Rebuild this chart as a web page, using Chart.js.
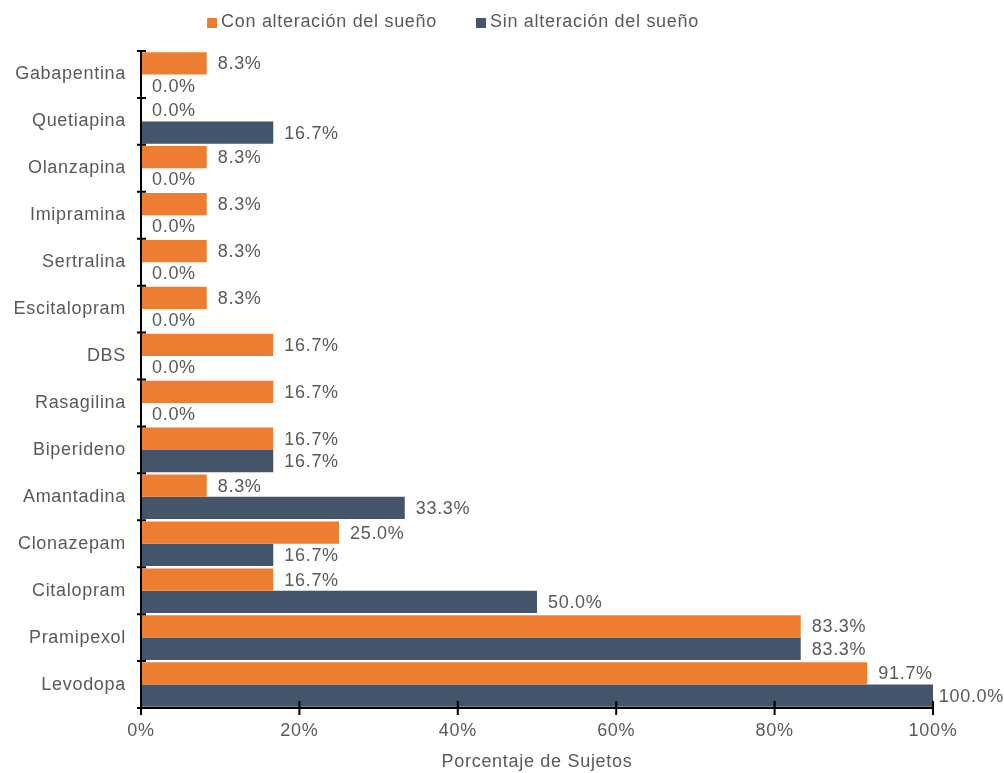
<!DOCTYPE html>
<html>
<head>
<meta charset="utf-8">
<script src="https://cdn.jsdelivr.net/npm/chart.js@4"></script>
<style>
  html, body { margin: 0; padding: 0; background: #fff; }
  #wrap { width: 1004px; height: 773px; }
</style>
</head>
<body>
<div id="wrap"><canvas id="sleepChart" width="1004" height="773"></canvas></div>
<script>
const farmacos = ['Gabapentina', 'Quetiapina', 'Olanzapina', 'Imipramina', 'Sertralina', 'Escitalopram',
    'DBS', 'Rasagilina', 'Biperideno', 'Amantadina', 'Clonazepam', 'Citalopram', 'Pramipexol', 'Levodopa'];
const conAlteracion = [8.3, 0.0, 8.3, 8.3, 8.3, 8.3, 16.7, 16.7, 16.7, 8.3, 25.0, 16.7, 83.3, 91.7];
const sinAlteracion = [0.0, 16.7, 0.0, 0.0, 0.0, 0.0, 0.0, 0.0, 16.7, 33.3, 16.7, 50.0, 83.3, 100.0];
const ticksX = [0, 20, 40, 60, 80, 100];

const textColor = '#595959';
const fontFamily = '"Liberation Sans", Arial, sans-serif';
const fontSize = 18;
const spacing = '0.7px';

// slightly wider letter spacing, set before layout and before drawing
const letterSpacing = {
    id: 'letterSpacing',
    beforeUpdate(chart) { chart.ctx.letterSpacing = spacing; },
    beforeDraw(chart) { chart.ctx.letterSpacing = spacing; }
};

// legend drawn by hand: small square, tight gap, then the label
const legendRow = {
    id: 'legendRow',
    afterDraw(chart) {
        const ctx = chart.ctx;
        ctx.save();
        ctx.letterSpacing = spacing;
        ctx.font = fontSize + 'px ' + fontFamily;
        ctx.textBaseline = 'middle';
        const items = chart.data.datasets.map(ds => ({
            text: ds.label, color: ds.backgroundColor, w: ctx.measureText(ds.label).width
        }));
        const box = 10, gap = 4, between = 39;
        const total = items.reduce((s, it) => s + box + gap + it.w, 0) + between * (items.length - 1);
        let x = 453 - total / 2;
        const y = 22;
        items.forEach(it => {
            ctx.fillStyle = it.color;
            ctx.fillRect(x, y - 4, box, box);
            x += box + gap;
            ctx.fillStyle = textColor;
            ctx.fillText(it.text, x, y);
            x += it.w + between;
        });
        ctx.restore();
    }
};

// value labels to the right of each bar end
const barLabels = {
    id: 'barLabels',
    afterDatasetsDraw(chart) {
        const ctx = chart.ctx;
        ctx.save();
        ctx.letterSpacing = spacing;
        ctx.font = fontSize + 'px ' + fontFamily;
        ctx.fillStyle = textColor;
        ctx.textBaseline = 'middle';
        chart.data.datasets.forEach((ds, i) => {
            chart.getDatasetMeta(i).data.forEach((bar, j) => {
                const txt = ds.data[j].toFixed(1) + '%';
                const w = ctx.measureText(txt).width;
                const x = Math.min(bar.x + 11, chart.width - w);
                ctx.fillText(txt, x, bar.y + 1);
            });
        });
        ctx.restore();
    }
};

// axis lines with tick marks crossing them
const axisTicks = {
    id: 'axisTicks',
    afterDraw(chart) {
        const ctx = chart.ctx;
        const xs = chart.scales.x;
        const area = chart.chartArea;
        ctx.save();
        ctx.strokeStyle = '#000';
        ctx.lineWidth = 2;
        ctx.beginPath();
        ctx.moveTo(area.left, area.top);
        ctx.lineTo(area.left, area.bottom);
        ctx.lineTo(area.right, area.bottom);
        ctx.stroke();
        ctx.beginPath();
        for (let k = 0; k <= farmacos.length; k++) {
            const y = area.top + (area.bottom - area.top) * k / farmacos.length;
            ctx.moveTo(area.left - 4, y);
            ctx.lineTo(area.left + 5, y);
        }
        ticksX.forEach(v => {
            const x = xs.getPixelForValue(v);
            ctx.moveTo(x, area.bottom - 7);
            ctx.lineTo(x, area.bottom + 7);
        });
        ctx.stroke();
        ctx.restore();
    }
};

new Chart(document.getElementById('sleepChart'), {
    type: 'bar',
    data: {
        labels: farmacos,
        datasets: [{
            label: 'Con alteración del sueño',
            data: conAlteracion,
            backgroundColor: '#ED7D31',
            barPercentage: 1.0,
            categoryPercentage: 0.95
        }, {
            label: 'Sin alteración del sueño',
            data: sinAlteracion,
            backgroundColor: '#44546A',
            barPercentage: 1.0,
            categoryPercentage: 0.95
        }]
    },
    options: {
        indexAxis: 'y',
        responsive: false,
        animation: false,
        layout: { padding: { top: 51, right: 71, left: 0, bottom: 0 } },
        plugins: {
            legend: { display: false },
            tooltip: { enabled: false }
        },
        scales: {
            x: {
                min: 0,
                max: 100,
                afterBuildTicks(scale) { scale.ticks = ticksX.map(v => ({ value: v })); },
                afterFit(scale) { scale.height = 65; },
                grid: { display: false, drawTicks: false },
                border: { display: false },
                ticks: {
                    color: textColor,
                    padding: 12,
                    font: { size: fontSize, family: fontFamily },
                    callback: v => v + '%'
                },
                title: {
                    display: true,
                    text: 'Porcentaje de Sujetos',
                    color: textColor,
                    padding: { top: 10, bottom: 0 },
                    font: { size: fontSize, family: fontFamily }
                }
            },
            y: {
                grid: { display: false, drawTicks: false },
                border: { display: false },
                afterFit(scale) { scale.width = 141; },
                ticks: {
                    color: textColor,
                    padding: 15,
                    font: { size: fontSize, family: fontFamily }
                }
            }
        }
    },
    plugins: [letterSpacing, barLabels, axisTicks, legendRow]
});
</script>
</body>
</html>
